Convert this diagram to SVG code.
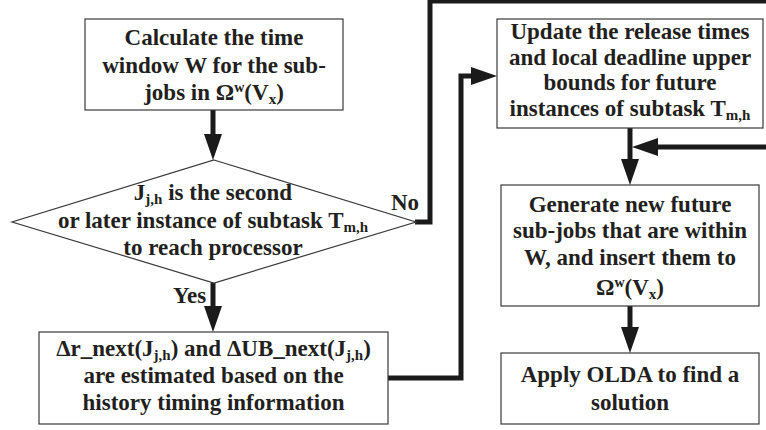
<svg xmlns="http://www.w3.org/2000/svg" width="766" height="430" viewBox="0 0 766 430">
<style>
.box{fill:#fff;stroke:#3a3a3a;stroke-width:1.2}
text{font-family:'Liberation Serif','Times New Roman',serif;font-weight:700;font-size:23px;fill:#231f20}
.t{text-anchor:middle}
.sub{font-size:15px}
.sup{font-size:14px}
.c{fill:none;stroke:#1a1a1a;stroke-width:5;stroke-linejoin:miter}
</style>
<defs>
<marker id="ah" markerUnits="userSpaceOnUse" markerWidth="27" markerHeight="18" refX="0" refY="9" orient="auto">
<path d="M0,0 L26,9 L0,18 z" fill="#1a1a1a"/>
</marker>
</defs>
<rect width="766" height="430" fill="#fff"/>
<g id="connectors">
<path class="c" d="M213,110 V134" marker-end="url(#ah)"/>
<path class="c" d="M213,283 V306" marker-end="url(#ah)"/>
<path class="c" d="M415,222 H430 V1 H770"/>
<path class="c" d="M770,147 H658" marker-end="url(#ah)"/>
<path class="c" d="M388,378 H461 V76 H471" marker-end="url(#ah)"/>
<path class="c" d="M630,128 V159" marker-end="url(#ah)"/>
<path class="c" d="M630,306 V327" marker-end="url(#ah)"/>
</g>
<g id="n1">
<rect class="box" x="85" y="19" width="258" height="91"/>
<text class="t" x="214" y="45">Calculate the time</text>
<text class="t" x="214" y="72.5">window W for the sub-</text>
<text class="t" x="214" y="100">jobs in Ω<tspan class="sup" dy="-8">w</tspan><tspan dy="8">(V</tspan><tspan class="sub" dy="4">x</tspan><tspan dy="-4">)</tspan></text>
</g>
<g id="n2">
<polygon class="box" points="214,160 416,222 214,283 12,222"/>
<text class="t" x="213" y="200">J<tspan class="sub" dy="4">j,h</tspan><tspan dy="-4"> is the second</tspan></text>
<text class="t" x="213" y="228">or later instance of subtask T<tspan class="sub" dy="4">m,h</tspan></text>
<text class="t" x="213" y="255">to reach processor</text>
<text x="391" y="210">No</text>
<text x="173" y="303">Yes</text>
</g>
<g id="n3">
<rect class="box" x="39" y="332" width="349" height="92"/>
<text class="t" x="213.5" y="356">Δr_next(J<tspan class="sub" dy="4">j,h</tspan><tspan dy="-4">) and ΔUB_next(J</tspan><tspan class="sub" dy="4">j,h</tspan><tspan dy="-4">)</tspan></text>
<text class="t" x="213.5" y="383">are estimated based on the</text>
<text class="t" x="213.5" y="410">history timing information</text>
</g>
<g id="n4">
<rect class="box" x="497" y="19" width="266" height="109"/>
<text class="t" x="630" y="39">Update the release times</text>
<text class="t" x="630" y="65">and local deadline upper</text>
<text class="t" x="630" y="90">bounds for future</text>
<text class="t" x="630" y="115.5">instances of subtask T<tspan class="sub" dy="4">m,h</tspan></text>
</g>
<g id="n5">
<rect class="box" x="501" y="185" width="258" height="121"/>
<text class="t" x="630" y="212">Generate new future</text>
<text class="t" x="630" y="238">sub-jobs that are within</text>
<text class="t" x="630" y="265">W, and insert them to</text>
<text class="t" x="630" y="295">Ω<tspan class="sup" dy="-8">w</tspan><tspan dy="8">(V</tspan><tspan class="sub" dy="4">x</tspan><tspan dy="-4">)</tspan></text>
</g>
<g id="n6">
<rect class="box" x="501" y="353" width="258" height="71"/>
<text class="t" x="630" y="382">Apply OLDA to find a</text>
<text class="t" x="630" y="410">solution</text>
</g>
</svg>
